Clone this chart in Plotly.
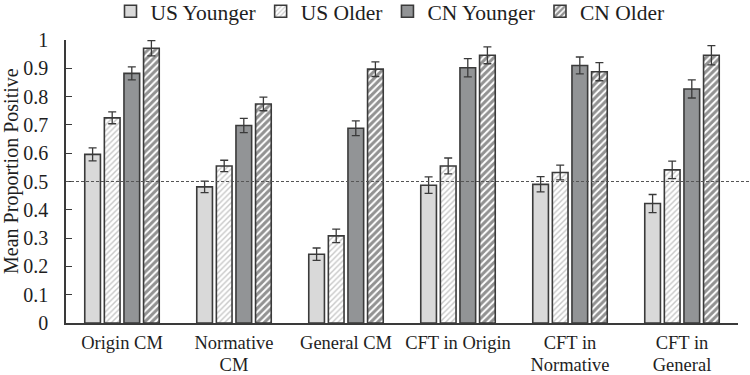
import plotly.graph_objects as go

categories = ["Origin CM", "Normative CM", "General CM", "CFT in Origin", "CFT in Normative", "CFT in General"]
label_line1 = ["Origin CM", "Normative", "General CM", "CFT in Origin", "CFT in", "CFT in"]
label_line2 = ["", "CM", "", "", "Normative", "General"]
series_names = ["US Younger", "US Older", "CN Younger", "CN Older"]
us_younger = [0.596, 0.481, 0.243, 0.487, 0.490, 0.422]
us_older = [0.725, 0.555, 0.308, 0.555, 0.532, 0.541]
cn_younger = [0.882, 0.698, 0.688, 0.902, 0.910, 0.827]
cn_older = [0.971, 0.774, 0.897, 0.946, 0.888, 0.946]
err_us_younger = [0.023, 0.020, 0.022, 0.029, 0.027, 0.032]
err_us_older = [0.021, 0.020, 0.024, 0.028, 0.026, 0.031]
err_cn_younger = [0.023, 0.025, 0.026, 0.032, 0.030, 0.032]
err_cn_older = [0.027, 0.024, 0.026, 0.030, 0.032, 0.034]
reference_value = 0.5
y_ticks = [0, 0.1, 0.2, 0.3, 0.4, 0.5, 0.6, 0.7, 0.8, 0.9, 1]
y_tick_labels = ["0", "0.1", "0.2", "0.3", "0.4", "0.5", "0.6", "0.7", "0.8", "0.9", "1"]
y_title = "Mean Proportion Positive"

FONT = "Liberation Serif, Times New Roman, serif"
OUTLINE = "#3a3a3a"
TEXT = "#1e1e1e"

styles = [
    dict(color="#d9d9d9"),
    dict(color="white", pattern=dict(shape="/", fgcolor="#8f8f8f", bgcolor="white", size=4, solidity=0.35)),
    dict(color="#929496"),
    dict(color="white", pattern=dict(shape="/", fgcolor="#262626", bgcolor="white", size=5, solidity=0.6)),
]
values = [us_younger, us_older, cn_younger, cn_older]
errors = [err_us_younger, err_us_older, err_cn_younger, err_cn_older]

fig = go.Figure()
for name, vals, errs, st in zip(series_names, values, errors, styles):
    marker = dict(line=dict(color=OUTLINE, width=1.6), **st)
    fig.add_trace(go.Bar(
        name=name, x=categories, y=vals, marker=marker,
        error_y=dict(type="data", array=errs, visible=True, color=OUTLINE, thickness=1.3, width=4),
    ))

positions = list(range(len(categories)))
# invisible carrier trace so that the second label row (xaxis2) is drawn
fig.add_trace(go.Scatter(x=positions, y=[None] * len(positions), xaxis="x2", yaxis="y",
                         mode="markers", showlegend=False, hoverinfo="skip"))

fig.add_shape(type="line", xref="paper", yref="y", x0=0, x1=1.02, y0=reference_value, y1=reference_value,
              line=dict(color="#555555", width=1, dash="3px,2px"))

fig.add_annotation(text=y_title, xref="paper", yref="paper", x=-0.082, y=0.537,
                   xanchor="center", yanchor="middle", textangle=-90, showarrow=False,
                   font=dict(family=FONT, size=20, color=TEXT))

fig.update_layout(
    width=750, height=375,
    margin=dict(l=66, r=12, t=40, b=52, autoexpand=False),
    paper_bgcolor="white", plot_bgcolor="white",
    barmode="group", bargap=0.3, bargroupgap=0.2,
    font=dict(family=FONT, size=18.5, color=TEXT),
    legend=dict(orientation="h", x=0.52, xref="container", xanchor="center",
                y=0.97, yref="container", yanchor="middle",
                font=dict(family=FONT, size=21.5, color=TEXT), itemwidth=30, traceorder="normal"),
    showlegend=True,
    xaxis=dict(showline=True, linecolor=OUTLINE, linewidth=1.5, ticks="", showgrid=False,
               automargin=False, ticklabelstandoff=2, tickmode="array", tickvals=categories,
               ticktext=label_line1, tickfont=dict(family=FONT, size=18.5, color=TEXT)),
    xaxis2=dict(overlaying="x", anchor="y", side="bottom", range=[-0.5, len(categories) - 0.5],
                tickmode="array", tickvals=positions, ticktext=label_line2, showline=False,
                showgrid=False, zeroline=False, ticks="", automargin=False, ticklabelstandoff=28,
                tickfont=dict(family=FONT, size=18.5, color=TEXT)),
)
fig.update_yaxes(range=[0, 1], tickvals=y_ticks, ticktext=y_tick_labels, showline=True, linecolor=OUTLINE,
                 linewidth=1.5, ticks="inside", ticklen=6, tickcolor=OUTLINE, showgrid=False, zeroline=False,
                 automargin=False, ticklabelstandoff=12,
                 tickfont=dict(family=FONT, size=20, color=TEXT))

fig.write_html("out.html", config={"displayModeBar": False},
               post_script="document.body.style.margin='0';document.body.style.padding='0';")
